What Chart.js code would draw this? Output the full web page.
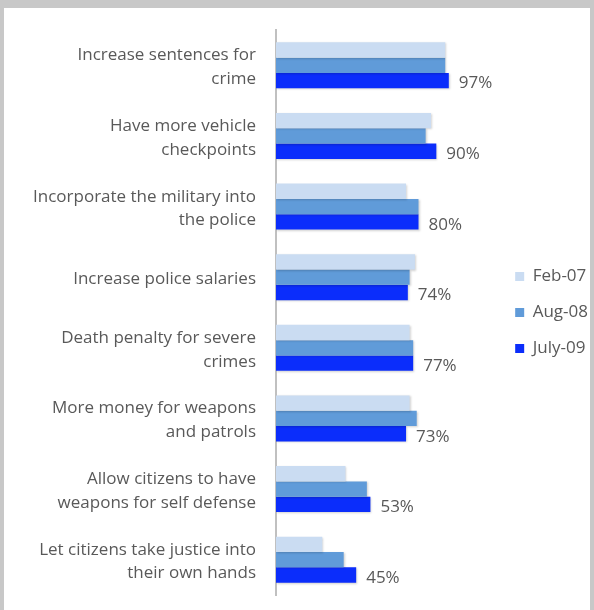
<!DOCTYPE html>
<html>
<head>
<meta charset="utf-8">
<script src="https://cdn.jsdelivr.net/npm/chart.js@4.4.1/dist/chart.umd.min.js"></script>
<style>
    html, body { margin: 0; padding: 0; background: #c8c8c8; }
    body { width: 594px; height: 610px; position: relative; overflow: hidden; }
    #frame { position: absolute; left: 4px; top: 8px; width: 586px; height: 602px; background: #fff; overflow: hidden; }
    #frame canvas { display: block; }
</style>
</head>
<body>
<div id="frame"><canvas id="myChart" width="594" height="602"></canvas></div>
<script>
// ------------------------------
// Chart data
// ------------------------------
const categories = [
    ['Increase sentences for', 'crime'],
    ['Have more vehicle', 'checkpoints'],
    ['Incorporate the military into', 'the police'],
    ['Increase police salaries'],
    ['Death penalty for severe', 'crimes'],
    ['More money for weapons', 'and patrols'],
    ['Allow citizens to have', 'weapons for self defense'],
    ['Let citizens take justice into', 'their own hands']
];
const seriesNames = ['Feb-07', 'Aug-08', 'July-09'];
const feb07 = [95, 87, 73, 78, 75, 75, 39, 26];
const aug08 = [95, 84, 80, 75, 77, 79, 51, 38];
const july09 = [97, 90, 80, 74, 77, 73, 53, 45];

const colors = ['#cadcf2', '#609bd9', '#0b2dfb'];
const textColor = '#595959';
const fontFamily = '"Open Sans", Lato, sans-serif';

// ------------------------------
// Value labels next to the latest series
// ------------------------------
const valueLabels = {
    id: 'valueLabels',
    afterDatasetsDraw(chart) {
        const ctx = chart.ctx;
        const meta = chart.getDatasetMeta(2);
        ctx.save();
        ctx.fillStyle = textColor;
        ctx.font = '17px ' + fontFamily;
        ctx.textAlign = 'left';
        ctx.textBaseline = 'middle';
        meta.data.forEach((bar, i) => {
            ctx.fillText(july09[i] + '%', bar.x + 10, bar.y + 3);
        });
        ctx.restore();
    }
};

// soft shadow like the spreadsheet bars
const barShadow = {
    id: 'barShadow',
    beforeDatasetsDraw(chart) {
        chart.ctx.save();
        chart.ctx.shadowColor = 'rgba(0,0,0,0.18)';
        chart.ctx.shadowBlur = 2;
        chart.ctx.shadowOffsetX = 1;
        chart.ctx.shadowOffsetY = 1;
    },
    afterDatasetsDraw(chart) {
        chart.ctx.restore();
    }
};

const c = document.getElementById('myChart').getContext('2d');
new Chart(c, {
    type: 'bar',
    data: {
        labels: categories,
        datasets: [
            { label: seriesNames[0], data: feb07, backgroundColor: colors[0] },
            { label: seriesNames[1], data: aug08, backgroundColor: colors[1] },
            { label: seriesNames[2], data: july09, backgroundColor: colors[2] }
        ]
    },
    options: {
        indexAxis: 'y',
        responsive: false,
        animation: false,
        categoryPercentage: 0.65,
        barPercentage: 1.0,
        layout: { padding: { top: 22, bottom: 15, left: 0, right: 0 } },
        scales: {
            x: { display: false, min: 0, max: 123.6 },
            y: {
                grid: { display: false, drawTicks: false },
                border: { display: true, color: '#c0c0c0', width: 2 },
                ticks: {
                    color: textColor,
                    padding: 20,
                    labelOffset: 2,
                    font: { family: fontFamily, size: 17, lineHeight: 1.4 }
                },
                afterFit(scale) {
                    scale.width = 272;
                    scale.paddingTop = 0;
                    scale.paddingBottom = 0;
                }
            }
        },
        plugins: {
            legend: {
                position: 'right',
                labels: {
                    color: textColor,
                    boxWidth: 9,
                    boxHeight: 9,
                    padding: 19,
                    font: { family: fontFamily, size: 17 }
                }
            },
            tooltip: { enabled: false }
        }
    },
    plugins: [barShadow, valueLabels]
});
</script>
</body>
</html>
